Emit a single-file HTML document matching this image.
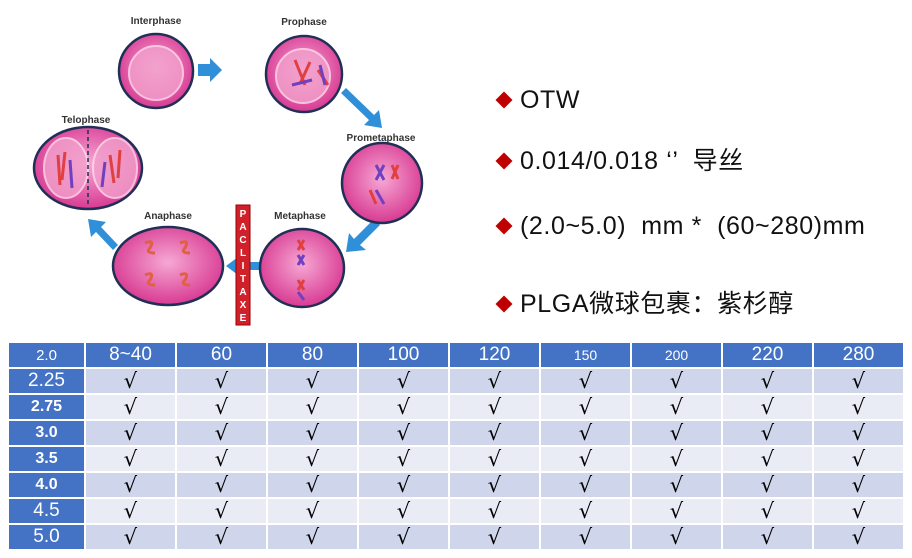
<!DOCTYPE html>
<html><head><meta charset="utf-8"><style>
body{margin:0;width:912px;height:558px;background:#fff;position:relative;overflow:hidden;font-family:"Liberation Sans","Noto Sans CJK SC",sans-serif}
.t{position:absolute;left:520px;font-size:25px;letter-spacing:0.6px;color:#111;font-family:"Liberation Sans","Noto Sans CJK SC",sans-serif;white-space:pre;line-height:28px}
.d{position:absolute;left:498px;width:12px;height:12px;background:#c00000;transform:rotate(45deg)}
.g{position:absolute;left:9px;top:343px;display:grid;grid-template-columns:75px repeat(9,89px);grid-template-rows:24px repeat(7,24px);gap:2px}
.g div{display:flex;align-items:center;justify-content:center;font-size:19px}
.h{background:#4472c4;color:#fff}
.a{background:#cfd5ea;color:#000}
.b{background:#e9ebf5;color:#000}
.a,.b{font-size:21px!important;font-family:"DejaVu Sans",sans-serif}
.lb{font-weight:bold;font-size:16px!important}
.lab{font:bold 10px "Liberation Sans",sans-serif;fill:#333}
</style></head><body>
<svg width="470" height="335" style="position:absolute;left:0;top:0">
<defs>
<radialGradient id="p" cx="50%" cy="45%" r="55%"><stop offset="0" stop-color="#f6a8d4"/><stop offset="1" stop-color="#d83a92"/></radialGradient>
</defs>
<g fill="#2f8fd8">
<path d="M198 64 L210 64 L210 58 L222 70 L210 82 L210 76 L198 76Z"/>
<path d="M346 88 L374 115 L379 110 L382 128 L364 125 L369 120 L341 93Z"/>
<path d="M380 225 L360 245 L366 250 L346 252 L349 233 L354 239 L374 219Z"/>
<path d="M262 262 L238 262 L238 257 L226 266 L238 275 L238 270 L262 270Z"/>
<path d="M113 250 L96 232 L91 237 L88 219 L106 222 L101 227 L118 245Z"/>
</g>
<g stroke="#1f2f55" stroke-width="2.5" fill="url(#p)">
<circle cx="156" cy="71" r="37"/>
<circle cx="304" cy="74" r="38"/>
<circle cx="382" cy="183" r="40"/>
<ellipse cx="302" cy="268" rx="42" ry="39"/>
<ellipse cx="168" cy="266" rx="55" ry="39"/>
<ellipse cx="88" cy="168" rx="54" ry="41"/>
</g>
<g stroke="#fde" stroke-width="2" fill="#f2a0cc" opacity=".8">
<circle cx="156" cy="73" r="27"/><circle cx="303" cy="76" r="27"/>
<ellipse cx="66" cy="168" rx="22" ry="30"/><ellipse cx="115" cy="168" rx="22" ry="30"/>
</g>
<line x1="88" y1="130" x2="88" y2="207" stroke="#1f2f55" stroke-width="1.5" stroke-dasharray="4 3"/>
<g stroke-width="3" fill="none">
<path d="M295 60 l10 25 M310 62 l-10 22 M318 70 l10 15" stroke="#e04040"/>
<path d="M292 85 l20 -5 M320 65 l5 20" stroke="#7040c0"/>
<path d="M376 165 l8 15 M384 165 l-8 15 M376 190 l8 14" stroke="#7040c0"/>
<path d="M392 165 l6 14 M398 165 l-6 14 M370 190 l6 14" stroke="#e04040"/>
<path d="M298 240 l6 10 M304 240 l-6 10 M298 280 l6 10 M304 280 l-6 10" stroke="#e04040"/>
<path d="M298 255 l6 10 M304 255 l-6 10 M298 292 l6 8" stroke="#7040c0"/>
<path d="M145 243 q10 -4 5 5 q-5 5 5 5 M180 243 q10 -4 5 5 q-5 5 5 5 M145 275 q10 -4 5 5 q-5 5 5 5 M180 275 q10 -4 5 5 q-5 5 5 5" stroke="#e06040"/>
<path d="M58 155 l2 30 M65 152 l-3 28 M110 155 l4 28 M120 150 l-2 28" stroke="#e04040"/>
<path d="M70 160 l2 28 M105 162 l-3 25" stroke="#7040c0"/>
</g>
<rect x="236" y="205" width="14" height="120" fill="#d0202a" stroke="#900" />
<text x="243" y="217" fill="#fff" font-size="10" font-weight="bold" text-anchor="middle" font-family="Liberation Sans">
<tspan x="243" dy="0">P</tspan><tspan x="243" dy="13">A</tspan><tspan x="243" dy="13">C</tspan><tspan x="243" dy="13">L</tspan><tspan x="243" dy="13">I</tspan><tspan x="243" dy="13">T</tspan><tspan x="243" dy="13">A</tspan><tspan x="243" dy="13">X</tspan><tspan x="243" dy="13">E</tspan><tspan x="243" dy="13">L</tspan></text>
<text class="lab" x="156" y="24" text-anchor="middle">Interphase</text>
<text class="lab" x="304" y="25" text-anchor="middle">Prophase</text>
<text class="lab" x="381" y="141" text-anchor="middle">Prometaphase</text>
<text class="lab" x="300" y="219" text-anchor="middle">Metaphase</text>
<text class="lab" x="168" y="219" text-anchor="middle">Anaphase</text>
<text class="lab" x="86" y="123" text-anchor="middle">Telophase</text>
</svg>
<div class="d" style="top:94px"></div><div class="t" style="top:86px">OTW</div>
<div class="d" style="top:155px"></div><div class="t" style="top:147px">0.014/0.018 ‘’  导丝</div>
<div class="d" style="top:220px"></div><div class="t" style="top:212px">(2.0~5.0)  mm *  (60~280)mm</div>
<div class="d" style="top:298px"></div><div class="t" style="top:290px">PLGA微球包裹：紫杉醇</div>
<div class="g">
<div class="h" style="font-size:15px">2.0</div><div class="h">8~40</div><div class="h">60</div><div class="h">80</div><div class="h">100</div><div class="h">120</div><div class="h" style="font-size:14px">150</div><div class="h" style="font-size:14px">200</div><div class="h">220</div><div class="h">280</div>
<div class="h">2.25</div><div class="a">√</div><div class="a">√</div><div class="a">√</div><div class="a">√</div><div class="a">√</div><div class="a">√</div><div class="a">√</div><div class="a">√</div><div class="a">√</div>
<div class="h lb">2.75</div><div class="b">√</div><div class="b">√</div><div class="b">√</div><div class="b">√</div><div class="b">√</div><div class="b">√</div><div class="b">√</div><div class="b">√</div><div class="b">√</div>
<div class="h lb">3.0</div><div class="a">√</div><div class="a">√</div><div class="a">√</div><div class="a">√</div><div class="a">√</div><div class="a">√</div><div class="a">√</div><div class="a">√</div><div class="a">√</div>
<div class="h lb">3.5</div><div class="b">√</div><div class="b">√</div><div class="b">√</div><div class="b">√</div><div class="b">√</div><div class="b">√</div><div class="b">√</div><div class="b">√</div><div class="b">√</div>
<div class="h lb">4.0</div><div class="a">√</div><div class="a">√</div><div class="a">√</div><div class="a">√</div><div class="a">√</div><div class="a">√</div><div class="a">√</div><div class="a">√</div><div class="a">√</div>
<div class="h">4.5</div><div class="b">√</div><div class="b">√</div><div class="b">√</div><div class="b">√</div><div class="b">√</div><div class="b">√</div><div class="b">√</div><div class="b">√</div><div class="b">√</div>
<div class="h">5.0</div><div class="a">√</div><div class="a">√</div><div class="a">√</div><div class="a">√</div><div class="a">√</div><div class="a">√</div><div class="a">√</div><div class="a">√</div><div class="a">√</div>
</div>
</body></html>
